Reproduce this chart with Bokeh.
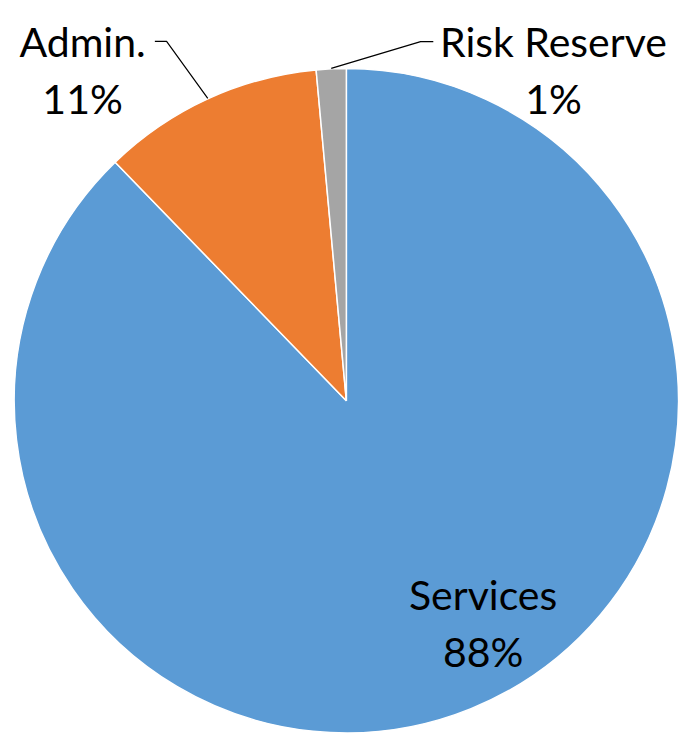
import math
from bokeh.plotting import figure
from bokeh.models import Range1d, ColumnDataSource
from bokeh.core.properties import value
from bokeh.embed import file_html
from bokeh.resources import INLINE

# ---- data ----
categories = ["Services", "Admin.", "Risk Reserve"]
shares = [87.75, 10.8, 1.45]
colors = ["#5B9BD5", "#ED7D31", "#A5A5A5"]

# ---- layout (reference pixel coordinates; data y = 750 - screen y) ----
W, H = 679, 734
CX, CY, R = 354, 750 - 409, 340

p = figure(width=W, height=H, x_range=Range1d(0, 695), y_range=Range1d(0, 750),
           output_backend="svg", toolbar_location=None, min_border=0,
           background_fill_color="white", border_fill_color="white")
p.axis.visible = False
p.grid.visible = False
p.outline_line_color = None

total = sum(shares)
starts, ends, mids = [], [], []
cum = 0.0
for s in shares:
    c0 = cum / total
    cum += s
    c1 = cum / total
    starts.append(math.pi / 2 - 2 * math.pi * c1)
    ends.append(math.pi / 2 - 2 * math.pi * c0)
    mids.append(math.pi / 2 - 2 * math.pi * (c0 + c1) / 2)

src = ColumnDataSource(dict(start=starts, end=ends, color=colors, cat=categories))
p.wedge(x=CX, y=CY, radius=R, start_angle="start", end_angle="end", direction="anticlock",
        fill_color="color", line_color="white", line_width=1.5, source=src)

labels = [f"{round(s / total * 100)}%" for s in shares]

# label placements (reference coords: center x, baseline y of first line)
label_pos = [(494, 607), (84, 42), (566, 42)]
LINE = 58
FONT = value("Lato")
for cat, lab, (lx, ly) in zip(categories, labels, label_pos):
    p.text(x=[lx, lx], y=[750 - ly, 750 - ly - LINE], text=[cat, lab],
           text_font=FONT, text_font_size="41px", text_color="black",
           text_align="center", text_baseline="alphabetic")

# leader lines for Admin. and Risk Reserve
knees = {1: [(158, 41.7), (170, 41.7)], 2: [(443, 42), (430, 42)]}
for i, pts in knees.items():
    ex = CX + R * math.cos(mids[i])
    ey = CY + R * math.sin(mids[i])
    xs = [pts[0][0], pts[1][0], ex]
    ys = [750 - pts[0][1], 750 - pts[1][1], ey]
    p.line(xs, ys, line_color="black", line_width=1.2)

open("out.html", "w").write(file_html(p, INLINE))
